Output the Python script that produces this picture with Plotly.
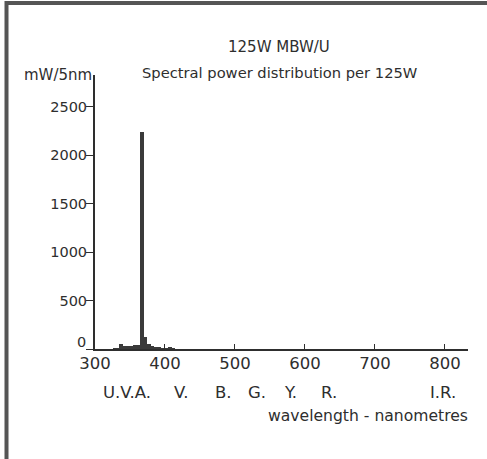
import plotly.graph_objects as go

# 5 nm bins (bin start, nm) and spectral power (mW/5nm)
bin_start = [325, 330, 335, 340, 345, 350, 355, 360, 365, 370, 375, 380, 385, 390, 395, 400, 405, 410]
power = [5, 10, 50, 30, 30, 35, 40, 45, 2240, 120, 50, 35, 25, 15, 10, 8, 20, 5]

x_ticks = [300, 400, 500, 600, 700, 800]
y_ticks = [0, 500, 1000, 1500, 2000, 2500]
y_labels = ["", "500", "1000", "1500", "2000", "2500"]  # "0" is drawn slightly raised, as in the original
zero_label = "0"

band_labels = ["U.V.A.", "V.", "B.", "G.", "Y.", "R.", "I.R."]
band_pos = [346, 423, 484, 531, 580, 634, 797]

ink = "#2e2e2e"
font = "DejaVu Sans, Liberation Sans, sans-serif"

fig = go.Figure()
fig.add_trace(go.Bar(
    x=[b + 2.5 for b in bin_start], y=power, width=5,
    marker=dict(color="#3a3a3a", line=dict(width=0)),
    showlegend=False,
))

W, H = 487, 459
L, R, T, B = 95, 19, 75, 110
pw, ph = W - L - R, H - T - B

def px(x):
    return (x - L) / pw

def py(y):
    return (H - B - y) / ph

fig.update_layout(
    width=W, height=H,
    margin=dict(l=L, r=R, t=T, b=B),
    paper_bgcolor="white", plot_bgcolor="white",
    font=dict(family=font, color=ink, size=14),
    bargap=0,
    xaxis=dict(range=[300, 833], tickvals=x_ticks, ticks="inside", ticklen=5,
               tickcolor=ink, showline=True, linecolor=ink, linewidth=2,
               showgrid=False, zeroline=False, tickfont=dict(size=16.5),
               ticklabelstandoff=-2),
    yaxis=dict(range=[0, 2825], tickvals=y_ticks, ticktext=y_labels,
               ticks="outside", ticklen=7,
               tickcolor=ink, showline=True, linecolor=ink, linewidth=2,
               showgrid=False, zeroline=False, tickfont=dict(size=14.5),
               ticklabelstandoff=-4),
)

ann = [
    dict(text="125W MBW/U", x=px(279), y=py(47), size=15),
    dict(text="Spectral power distribution per 125W", x=px(280), y=py(73), size=14.7),
    dict(text="mW/5nm", x=px(58), y=py(75), size=15),
    dict(text="wavelength - nanometres", x=px(470), y=py(416), xanchor="right", size=15.6),
    dict(text=zero_label, x=px(88), y=py(342), xanchor="right", size=14.5),
]
for a in ann:
    fig.add_annotation(xref="paper", yref="paper", showarrow=False,
                       xanchor=a.get("xanchor", "center"), yanchor="middle",
                       text=a["text"], x=a["x"], y=a["y"],
                       font=dict(size=a["size"], color=ink, family=font))

for lab, pos in zip(band_labels, band_pos):
    fig.add_annotation(xref="x", yref="paper", x=pos, y=py(392), text=lab,
                       showarrow=False, xanchor="center", yanchor="middle",
                       font=dict(size=16.5, color=ink, family=font))

# page frame (thick top and left border)
fig.add_shape(type="line", xref="paper", yref="paper",
              x0=px(5), x1=px(490), y0=py(3), y1=py(3),
              line=dict(color="#555555", width=4))
fig.add_shape(type="line", xref="paper", yref="paper",
              x0=px(6.5), x1=px(6.5), y0=py(1), y1=py(462),
              line=dict(color="#555555", width=4))

fig.write_html("out.html", config={"displayModeBar": False},
               post_script="document.body.style.margin='0';")
